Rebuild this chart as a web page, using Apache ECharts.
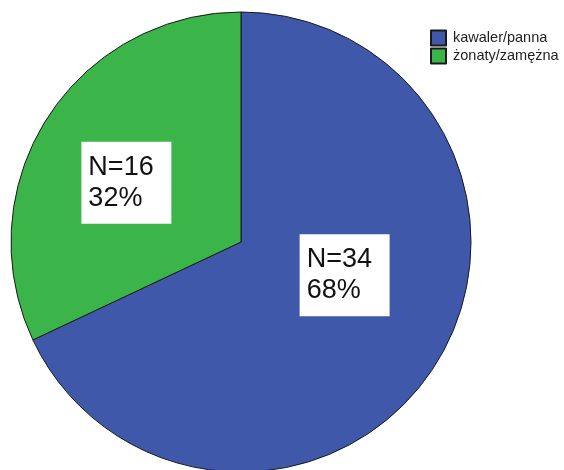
<!DOCTYPE html>
<html>
<head>
<meta charset="utf-8">
<script src="https://cdn.jsdelivr.net/npm/echarts@6/dist/echarts.min.js"></script>
<style>html,body{margin:0;padding:0;background:#fff}#c{width:564px;height:470px}</style>
</head>
<body>
<div id="c"></div>
<script>
const categories = ['kawaler/panna', 'żonaty/zamężna'];
const counts = [34, 16];
const colors = ['#3f58a9', '#3bb44a'];
const labelOffsets = [[4, -30], [-15, 4]];

const chart = echarts.init(document.getElementById('c'), null, {renderer: 'canvas'});
chart.setOption({
  animation: false,
  legend: {
    orient: 'vertical', left: 430, top: 29, padding: 0,
    itemWidth: 15, itemHeight: 15, itemGap: 0, icon: 'rect',
    textStyle: {fontFamily: 'Liberation Sans, Arial', fontSize: 14.5, lineHeight: 18, color: '#222', padding: [0, 0, 0, 2]},
    data: categories
  },
  series: [{
    type: 'pie',
    center: [241, 242],
    radius: 230,
    startAngle: 90,
    clockwise: true,
    emphasis: {disabled: true},
    labelLine: {show: false},
    itemStyle: {borderColor: '#1a1a1a', borderWidth: 1},
    data: categories.map((name, i) => ({
      name, value: counts[i],
      itemStyle: {color: colors[i]},
      label: {offset: labelOffsets[i]}
    })),
    label: {
      show: true,
      position: 'inside',
      formatter: '{t|N={c}}\n{t|{d}%}',
      backgroundColor: '#fff',
      padding: [10, 8, 10, 7],
      rich: {
        t: {
          fontFamily: 'Liberation Sans, Arial',
          fontSize: 27,
          lineHeight: 31,
          color: '#111',
          align: 'left',
          width: 75
        }
      }
    }
  }]
});
</script>
</body>
</html>
